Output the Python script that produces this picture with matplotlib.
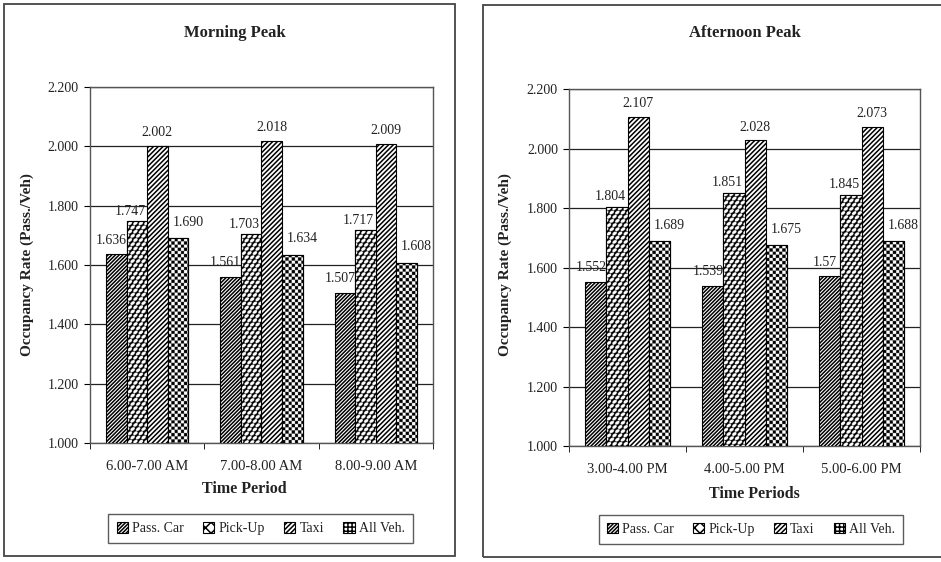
import numpy as np
import matplotlib
matplotlib.use("Agg")
import matplotlib.pyplot as plt
from matplotlib.patches import Rectangle

plt.rcParams['font.family'] = ['Liberation Serif', 'DejaVu Serif']
plt.rcParams['hatch.linewidth'] = 1.1

# ── data ─────────────────────────────────────────────────────────────────────
SERIES = ["Pass. Car", "Pick-Up", "Taxi", "All Veh."]

am_periods = ["6.00-7.00 AM", "7.00-8.00 AM", "8.00-9.00 AM"]
am_pass    = [1.636, 1.561, 1.507]
am_pickup  = [1.747, 1.703, 1.717]
am_taxi    = [2.002, 2.018, 2.009]
am_all     = [1.690, 1.634, 1.608]
am_labels  = [["1.636", "1.561", "1.507"],
              ["1.747", "1.703", "1.717"],
              ["2.002", "2.018", "2.009"],
              ["1.690", "1.634", "1.608"]]

pm_periods = ["3.00-4.00 PM", "4.00-5.00 PM", "5.00-6.00 PM"]
pm_pass    = [1.552, 1.539, 1.57]
pm_pickup  = [1.804, 1.851, 1.845]
pm_taxi    = [2.107, 2.028, 2.073]
pm_all     = [1.689, 1.675, 1.688]
pm_labels  = [["1.552", "1.539", "1.57"],
              ["1.804", "1.851", "1.845"],
              ["2.107", "2.028", "2.073"],
              ["1.689", "1.675", "1.688"]]

# ── style ────────────────────────────────────────────────────────────────────
HATCHES   = ["/////////", "xxx", "///////", "++++"]
FACES     = ["white", "white", "white", "white"]
TEXTURED  = {1: "scales", 3: "checker"}   # drawn as clipped pixel textures
LBL_OFF   = [(-5, 14), (-7, 10), (0, 13), (10, 16)]   # pixel offsets of value labels
BAR_W     = 0.18
TXT       = "#222222"
SUB       = 3                              # texture supersampling


def texture(kind, w_px, h_px):
    w, h = int(w_px * SUB) + 2, int(h_px * SUB) + 2
    v, u = np.mgrid[0:h, 0:w] / SUB        # pixel coords, v from top
    if kind == "checker":
        cell = 3.2
        return ((np.floor(u / cell) + np.floor(v / cell)) % 2).astype(float)
    # staggered rows of tilted white scales with dark outlines
    rh, cw = 4.2, 5.5
    row = v / rh
    col = u / cw + (np.floor(row) % 2) * 0.5
    du = (col - np.floor(col) - 0.5) * cw
    dv = (row - np.floor(row) - 0.5) * rh
    c, s = np.cos(np.pi / 5), np.sin(np.pi / 5)
    a = du * c - dv * s
    b = du * s + dv * c
    inside = (a / 2.5) ** 2 + (b / 1.55) ** 2 < 1.0
    return inside.astype(float)


def fill_textures(ax, bars, kind):
    fig.canvas.draw()
    for b in bars:
        x0, y0 = b.get_x(), b.get_y()
        x1, y1 = x0 + b.get_width(), y0 + b.get_height()
        p0 = ax.transData.transform((x0, y0))
        p1 = ax.transData.transform((x1, y1))
        img = texture(kind, abs(p1[0] - p0[0]), abs(p1[1] - p0[1]))
        im = ax.imshow(img, cmap="gray", vmin=0, vmax=1, aspect="auto",
                       extent=(x0, x1, y0, y1), origin="upper",
                       interpolation="antialiased", zorder=3.5)
        im.set_clip_path(b)
        # outline on top of the texture
        ax.add_patch(Rectangle((x0, y0), b.get_width(), b.get_height(),
                               fill=False, edgecolor="black", linewidth=0.8,
                               zorder=3.6))


def draw_panel(ax, periods, series, labels, title_xy, title, xlabel, ylab_x,
               xlab_y, leg_xy):
    x = np.arange(len(periods))
    handles = []
    for i, vals in enumerate(series):
        pos = x + (i - 1.5) * BAR_W
        bars = ax.bar(pos, np.array(vals) - 1.0, BAR_W, bottom=1.0,
                      color=FACES[i], edgecolor="black", linewidth=0.8,
                      hatch=HATCHES[i], zorder=3, label=SERIES[i])
        handles.append(bars)
        for p, v, s in zip(pos, vals, labels[i]):
            ax.annotate(s, (p, v), xytext=LBL_OFF[i], textcoords="offset pixels",
                        ha="center", va="center", fontsize=10, color=TXT)

    ax.set_xlim(-0.5, len(periods) - 0.5)
    ax.set_ylim(1.0, 2.2)
    ax.set_yticks(np.arange(1.0, 2.21, 0.2))
    ax.set_yticklabels([f"{t:.3f}" for t in np.arange(1.0, 2.21, 0.2)],
                       fontsize=10, color=TXT)
    ax.set_xticks(x)
    ax.set_xticklabels(periods, fontsize=10.5, color=TXT)
    ax.set_xticks(np.arange(-0.5, len(periods)), minor=True)
    ax.tick_params(axis="x", which="major", length=0, pad=12)
    ax.tick_params(axis="x", which="minor", length=4, direction="out")
    ax.tick_params(axis="y", length=4, direction="out", pad=4)
    ax.grid(axis="y", color="#222222", linewidth=0.9, zorder=0)
    for sp in ax.spines.values():
        sp.set_color("#555555")
        sp.set_linewidth(1.0)

    for i, kind in TEXTURED.items():
        fill_textures(ax, handles[i], kind)
    ax.set_xlim(-0.5, len(periods) - 0.5)
    ax.set_ylim(1.0, 2.2)

    fig.text(title_xy[0], title_xy[1], title, ha="center", va="center",
             fontsize=12, fontweight="bold", color=TXT)
    fig.text(ylab_x, 0.53, "Occupancy Rate (Pass./Veh)", rotation=90,
             ha="center", va="center", fontsize=11, fontweight="bold", color=TXT)
    fig.text(title_xy[0] + 0.01, xlab_y, xlabel, ha="center", va="center",
             fontsize=11.5, fontweight="bold", color=TXT)

    leg = fig.legend(handles=handles, loc="center", bbox_to_anchor=leg_xy,
                     ncol=4, fontsize=10, frameon=True, fancybox=False,
                     handlelength=0.8, handleheight=0.8, handletextpad=0.3,
                     columnspacing=1.4, borderpad=0.6)
    leg.get_frame().set_edgecolor("#333333")
    leg.get_frame().set_linewidth(1.0)
    for t in leg.get_texts():
        t.set_color(TXT)


fig = plt.figure(figsize=(9.41, 5.62), dpi=100)

# panel frames
fig.patches.append(Rectangle((4 / 941, 6 / 562), 451 / 941, 552 / 562,
                             transform=fig.transFigure, fill=False,
                             edgecolor="#444444", linewidth=1.3))
fig.patches.append(Rectangle((483 / 941, 5 / 562), 470 / 941, 552 / 562,
                             transform=fig.transFigure, fill=False,
                             edgecolor="#444444", linewidth=1.3))

ax1 = fig.add_axes([0.0956, 0.2117, 0.3645, 0.6335])
ax2 = fig.add_axes([0.6047, 0.2064, 0.373, 0.635])

draw_panel(ax1, am_periods, [am_pass, am_pickup, am_taxi, am_all], am_labels,
           (0.25, 0.941), "Morning Peak", "Time Period", 0.029, 0.130, (0.277, 0.0596))
draw_panel(ax2, pm_periods, [pm_pass, pm_pickup, pm_taxi, pm_all], pm_labels,
           (0.792, 0.941), "Afternoon Peak", "Time Periods", 0.537, 0.121, (0.798, 0.058))

fig.savefig("out.png", dpi=100)
